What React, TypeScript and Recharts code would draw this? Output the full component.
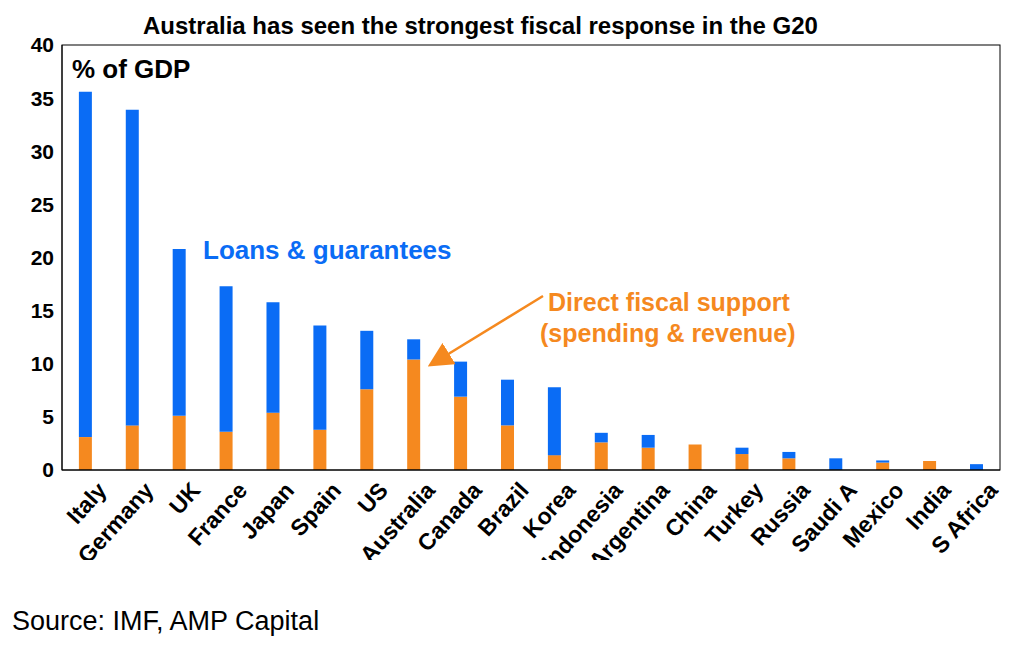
import { BarChart, Bar, XAxis, YAxis } from "recharts"

const countries = ["Italy", "Germany", "UK", "France", "Japan", "Spain", "US", "Australia", "Canada", "Brazil", "Korea", "Indonesia", "Argentina", "China", "Turkey", "Russia", "Saudi A", "Mexico", "India", "S Africa"]
const totals = [35.6, 33.9, 20.8, 17.3, 15.8, 13.6, 13.1, 12.3, 10.2, 8.5, 7.8, 3.5, 3.3, 2.4, 2.1, 1.7, 1.1, 0.9, 0.85, 0.55]
const direct = [3.1, 4.2, 5.1, 3.6, 5.4, 3.8, 7.6, 10.4, 6.9, 4.2, 1.4, 2.6, 2.1, 2.4, 1.5, 1.1, 0, 0.7, 0.85, 0]
const yTicks = [0, 5, 10, 15, 20, 25, 30, 35, 40]

const data = countries.map((c, i) => ({
  country: c,
  direct: direct[i],
  loans: Math.max(0, +(totals[i] - direct[i]).toFixed(2)),
}))

const font = "'Liberation Sans', Arial, sans-serif"

const XTick = (props: any) => {
  const { x, y, payload } = props
  return (
    <text x={x + 10} y={y + 2} transform={`rotate(-48 ${x + 10} ${y + 2})`} textAnchor="end" dominantBaseline="hanging"
      fontSize={23} fontWeight="bold" fill="#000" fontFamily={font}>
      {payload.value}
    </text>
  )
}

export default function App() {
  return (
    <div style={{ position: "absolute", left: 0, top: 0, width: 1024, height: 647, background: "#fff", fontFamily: font }}>
      <div style={{ position: "absolute", left: 143, top: 12, fontSize: 24, fontWeight: "bold", whiteSpace: "nowrap" }}>
        Australia has seen the strongest fiscal response in the G20
      </div>
      <div style={{ position: "absolute", top: 0, left: 0 }}>
        <BarChart width={1024} height={560} data={data} margin={{ top: 45, right: 24, left: 0, bottom: 0 }} barCategoryGap="36%">
          <XAxis dataKey="country" interval={0} tick={<XTick />} axisLine={{ stroke: "#000" }} tickLine={false} height={90} />
          <YAxis domain={[0, 40]} ticks={yTicks} width={62} axisLine={{ stroke: "#000" }} tickLine={false}
            tick={{ fontSize: 21, fontWeight: "bold", fill: "#000", fontFamily: font }} />
          <Bar dataKey="direct" stackId="a" fill="#F5891F" isAnimationActive={false} />
          <Bar dataKey="loans" stackId="a" fill="#0A6CF5" isAnimationActive={false} />
        </BarChart>
      </div>
      <svg width={1024} height={647} style={{ position: "absolute", left: 0, top: 0, pointerEvents: "none" }}>
        <defs>
          <marker id="ah" markerWidth="10" markerHeight="10" refX="8" refY="5" orient="auto">
            <path d="M0,0 L10,5 L0,10 z" fill="#F5891F" />
          </marker>
        </defs>
        <rect x={62} y={45} width={938} height={425} fill="none" stroke="#000" strokeWidth={1} />
        <text x={72} y={78} fontSize={26} fontWeight="bold" fontFamily={font}>% of GDP</text>
        <text x={203} y={259} fontSize={26} fontWeight="bold" fill="#0A6CF5" fontFamily={font}>Loans &amp; guarantees</text>
        <text x={548} y={311} fontSize={25} fontWeight="bold" fill="#F5891F" fontFamily={font}>Direct fiscal support</text>
        <text x={540} y={342} fontSize={25} fontWeight="bold" fill="#F5891F" fontFamily={font}>(spending &amp; revenue)</text>
        <line x1={543} y1={296} x2={432} y2={364} stroke="#F5891F" strokeWidth={2.5} markerEnd="url(#ah)" />
        <text x={12} y={630} fontSize={27} fontFamily={font}>Source: IMF, AMP Capital</text>
      </svg>
    </div>
  )
}
